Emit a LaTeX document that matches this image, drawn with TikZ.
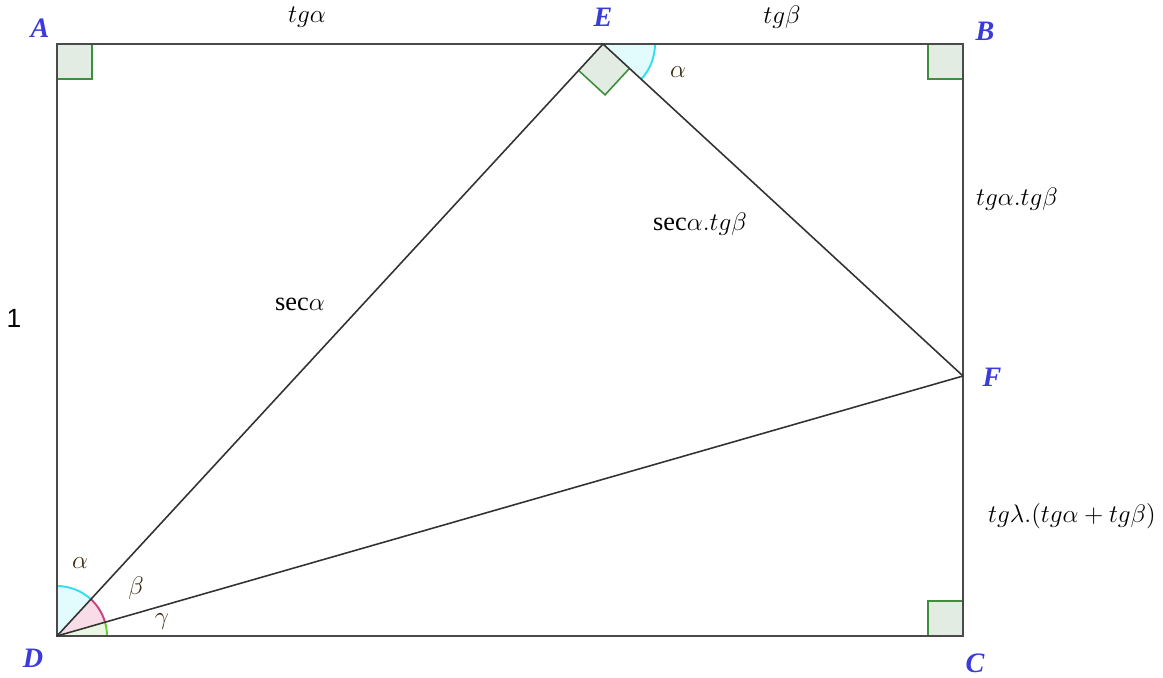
\documentclass[tikz,border=0pt]{standalone}
\usepackage{fontspec}
\setmainfont{Liberation Serif}
\setsansfont{Liberation Sans}
\usetikzlibrary{angles}
\definecolor{ptblue}{HTML}{3B3BD9}
\definecolor{edgegray}{HTML}{4A4A4A}
\definecolor{sqfill}{HTML}{E3ECE3}
\definecolor{sqdraw}{HTML}{3D8F3D}
\definecolor{cyanarc}{HTML}{33E0F0}
\definecolor{cyanfill}{HTML}{E2FBFC}
\definecolor{pinkarc}{HTML}{D0407A}
\definecolor{pinkfill}{HTML}{F8DDE8}
\definecolor{greenarc}{HTML}{66CC33}
\definecolor{greenfill}{HTML}{EAF6E2}
\definecolor{angtxt}{HTML}{3A2A10}
\begin{document}
\begin{tikzpicture}[x=0.02cm,y=0.02cm,
  edge/.style={draw=edgegray,line width=1.2pt},
  inner/.style={draw=black!80,line width=0.9pt},
  arcst/.style={line width=1.1pt},
  rsq/.style={draw=sqdraw,fill=sqfill,line width=0.9pt,angle radius=0.7cm},
  ptlab/.style={text=ptblue,font=\fontsize{16}{18}\selectfont\bfseries\itshape},
  txt/.style={font=\fontsize{15}{17}\selectfont},
  angl/.style={text=angtxt,font=\fontsize{15}{17}\selectfont}]
\useasboundingbox (0,0) rectangle (1163,677);
\coordinate (A) at (57,633);
\coordinate (E) at (603,633);
\coordinate (B) at (963,633);
\coordinate (F) at (963,301);
\coordinate (C) at (963,41);
\coordinate (D) at (57,41);
% angle fills
\pic[draw=cyanarc,fill=cyanfill,arcst,angle radius=1cm] {angle = E--D--A};
\pic[draw=pinkarc,fill=pinkfill,arcst,angle radius=1cm] {angle = F--D--E};
\pic[draw=greenarc,fill=greenfill,arcst,angle radius=1cm] {angle = C--D--F};
\pic[draw=cyanarc,fill=cyanfill,arcst,angle radius=1.04cm] {angle = F--E--B};
% right angles
\pic[rsq] {right angle = B--A--D};
\pic[rsq] {right angle = C--B--A};
\pic[rsq] {right angle = D--C--B};
\pic[rsq,angle radius=0.72cm] {right angle = D--E--F};
% rectangle and segments
\draw[edge] (A) -- (E) -- (B) -- (F) -- (C) -- (D) -- cycle;
\draw[inner] (D) -- (E);
\draw[inner] (E) -- (F);
\draw[inner] (D) -- (F);
% point labels
\node[ptlab] (lA) at (40,649) {A};
\node[ptlab] (lE) at (603,660) {E};
\node[ptlab] (lB) at (985,646) {B};
\node[ptlab] (lF) at (992,300) {F};
\node[ptlab] (lC) at (975,14) {C};
\node[ptlab] (lD) at (33,19) {D};
% length labels
\node[txt] (tA) at (307,660) {$tg\alpha$};
\node[txt] (tB) at (782,660) {$tg\beta$};
\node[txt] (tBF) at (1017,478) {$tg\alpha.tg\beta$};
\node[txt] (tEF) at (700,453) {$\mathrm{sec}\alpha.tg\beta$};
\node[txt] (tDE) at (300,373) {$\mathrm{sec}\alpha$};
\node[font=\fontsize{15}{17}\selectfont\sffamily] (one) at (14,359) {1};
\node[txt] (tFC) at (1072,161) {$tg\lambda.(tg\alpha+tg\beta)$};
% angle labels
\node[angl] (aE) at (678,605) {$\alpha$};
\node[angl] (aD) at (80,114) {$\alpha$};
\node[angl] (bD) at (136,89) {$\beta$};
\node[angl] (gD) at (162,55) {$\gamma$};
\end{tikzpicture}
\end{document}
